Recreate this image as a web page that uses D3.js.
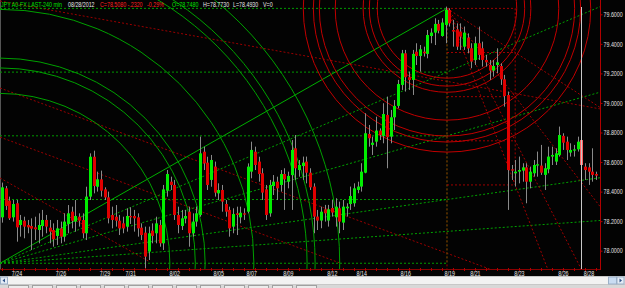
<!DOCTYPE html>
<html><head><meta charset="utf-8">
<script src="https://cdn.jsdelivr.net/npm/d3@7"></script>
<style>
body{margin:0;background:#000;overflow:hidden}
svg{display:block}
text{font-family:"Liberation Sans","DejaVu Sans",sans-serif}
</style></head><body>
<svg id="chart" width="625" height="288"></svg>
<script>
//* JPY A0-FX 240 min bars, 7/24 -> 8/28/2012
var opens = [78.226,78.422,78.339,78.226,78.321,78.174,78.203,78.174,78.167,78.158,78.140,78.167,78.208,78.156,78.140,78.100,78.151,78.095,78.181,78.264,
 78.197,78.230,78.208,78.118,78.366,78.636,78.433,78.483,78.415,78.361,78.242,78.230,78.203,78.185,78.163,78.235,78.235,78.226,78.156,78.122,
 77.994,78.136,78.118,78.174,78.050,78.406,78.467,78.445,78.242,78.167,78.217,78.264,78.118,78.197,78.242,78.670,78.596,78.479,78.569,78.388,
 78.411,78.316,78.276,78.163,78.253,78.226,78.253,78.264,78.535,78.670,78.603,78.524,78.415,78.253,78.438,78.467,78.445,78.519,78.467,78.512,
 78.693,78.546,78.573,78.603,78.528,78.434,78.231,78.204,78.280,78.204,78.289,78.226,78.287,78.190,78.287,78.316,78.321,78.411,78.434,78.528,
 78.790,78.716,78.738,78.813,78.777,78.919,78.772,78.903,78.980,79.122,79.336,79.174,79.156,79.347,79.318,79.347,79.332,79.453,79.476,79.535,
 79.453,79.528,79.629,79.494,79.498,79.483,79.381,79.442,79.370,79.291,79.404,79.370,79.291,79.257,79.219,79.257,79.250,79.160,79.054,78.551,
 78.524,78.535,78.542,78.564,78.467,78.524,78.576,78.576,78.513,78.551,78.637,78.603,78.648,78.777,78.738,78.664,78.677,78.686,78.749,78.569,
 78.564,78.535,78.519]
var highs = [78.461,78.438,78.366,78.343,78.343,78.242,78.230,78.208,78.219,78.230,78.253,78.276,78.242,78.208,78.185,78.208,78.197,78.253,78.309,78.298,
 78.343,78.253,78.253,78.433,78.659,78.677,78.535,78.542,78.429,78.400,78.298,78.309,78.242,78.230,78.287,78.294,78.276,78.253,78.185,78.163,
 78.163,78.185,78.230,78.208,78.445,78.546,78.501,78.479,78.298,78.276,78.276,78.298,78.253,78.298,78.772,78.704,78.636,78.648,78.603,78.456,
 78.445,78.343,78.298,78.287,78.298,78.298,78.287,78.591,78.738,78.704,78.636,78.558,78.445,78.479,78.512,78.501,78.546,78.558,78.535,78.749,
 78.783,78.614,78.637,78.637,78.558,78.456,78.276,78.298,78.310,78.310,78.343,78.355,78.332,78.343,78.321,78.434,78.456,78.467,78.592,78.930,
 78.851,78.772,78.907,78.828,78.998,79.043,78.953,79.020,79.156,79.359,79.359,79.212,79.359,79.404,79.392,79.381,79.494,79.505,79.573,79.562,
 79.573,79.652,79.641,79.562,79.539,79.539,79.517,79.471,79.404,79.449,79.517,79.415,79.325,79.291,79.291,79.370,79.268,79.190,79.077,78.580,
 78.614,78.637,78.592,78.592,78.569,78.614,78.671,78.716,78.592,78.704,78.704,78.693,78.840,78.795,78.772,78.727,78.716,78.772,78.783,78.592,
 78.592,78.693,78.535]
var lows = [78.190,78.276,78.208,78.197,78.061,78.095,78.084,78.118,78.005,78.072,78.050,78.095,78.118,78.050,78.027,78.039,78.050,78.061,78.118,78.151,
 78.129,78.163,78.084,78.072,78.343,78.388,78.400,78.366,78.343,78.185,78.151,78.163,78.106,78.118,78.129,78.181,78.129,78.095,78.072,77.881,
 77.937,78.050,78.050,78.027,78.005,78.366,78.411,78.208,78.118,78.140,78.185,78.027,78.095,78.163,78.230,78.546,78.411,78.433,78.366,78.343,
 78.264,78.230,78.095,78.118,78.106,78.185,78.208,78.253,78.490,78.546,78.467,78.343,78.208,78.230,78.377,78.343,78.400,78.276,78.422,78.276,
 78.479,78.501,78.479,78.456,78.411,78.118,78.140,78.152,78.197,78.163,78.231,78.163,78.118,78.140,78.231,78.276,78.298,78.389,78.400,78.524,
 78.704,78.648,78.704,78.749,78.727,78.558,78.727,78.817,78.964,79.088,79.077,79.088,79.054,79.257,79.212,79.314,79.302,79.404,79.392,79.471,
 79.449,79.404,79.517,79.381,79.359,79.359,79.359,79.336,79.235,79.257,79.291,79.246,79.246,79.156,79.178,79.201,79.122,78.975,78.276,78.479,
 78.434,78.456,78.467,78.321,78.422,78.501,78.501,78.513,78.411,78.524,78.580,78.580,78.637,78.682,78.614,78.637,78.637,78.671,78.569,78.479,
 78.445,78.467,78.479]
var closes = [78.429,78.303,78.219,78.316,78.158,78.208,78.163,78.158,78.149,78.145,78.174,78.208,78.163,78.129,78.077,78.151,78.095,78.197,78.253,78.203,
 78.235,78.203,78.118,78.366,78.636,78.438,78.483,78.406,78.361,78.219,78.208,78.203,78.151,78.151,78.235,78.226,78.219,78.151,78.106,77.960,
 78.118,78.100,78.185,78.050,78.415,78.519,78.445,78.242,78.174,78.219,78.235,78.118,78.197,78.253,78.659,78.591,78.445,78.614,78.393,78.411,
 78.332,78.264,78.151,78.248,78.242,78.257,78.244,78.569,78.682,78.580,78.519,78.393,78.242,78.445,78.467,78.422,78.519,78.483,78.506,78.682,
 78.558,78.580,78.596,78.528,78.429,78.231,78.204,78.264,78.253,78.280,78.258,78.298,78.197,78.298,78.298,78.370,78.422,78.434,78.535,78.795,
 78.761,78.731,78.813,78.783,78.925,78.768,78.903,78.980,79.128,79.336,79.174,79.156,79.332,79.318,79.363,79.336,79.460,79.476,79.535,79.489,
 79.544,79.629,79.539,79.483,79.381,79.449,79.476,79.370,79.280,79.404,79.325,79.291,79.275,79.219,79.250,79.275,79.160,79.047,78.546,78.542,
 78.535,78.546,78.564,78.467,78.535,78.580,78.585,78.528,78.558,78.637,78.648,78.659,78.783,78.731,78.682,78.682,78.686,78.738,78.580,78.546,
 78.535,78.513,78.508]
var selectedBar = 158

var priceTicks = [78.0,78.2,78.4,78.6,78.8,79.0,79.2,79.4,79.6]
var dateBars = [4,16,28,35,47,59,68,78,90,98,110,122,129,141,153,160]
var dateLabels = ["7/24","7/26","7/29","7/31","8/02","8/05","8/07","8/09","8/12","8/14","8/16","8/19","8/21","8/23","8/26","8/28"]

//* drawing tools: green gann box/fan/arcs from the low, red ones from the top
var greenFrom = {bar:-0.5, price:77.915}
var greenTo = {bar:121.4, price:79.64}
var greenLevels = [0,0.25,0.5,0.75,1]
var greenFan = [0.125,0.25,0.5,0.75]
var greenArcs = [0.38,0.437,0.459,0.568,0.687,0.705,0.76]
var redFrom = {bar:121.4, price:79.64}
var redTo = {bar:140, price:78.445}
var redLevels = [0,0.25,0.5,0.75,1]
var redArcs = [0.395,0.44,0.475,0.633,0.723,0.757,0.814]
//? hand drawn red trend lines: [bar1, price1, bar2, price2]
var redTrends = [
  [-0.5,78.769, 92.2,77.917],
  [-0.5,79.101, 163.1,77.600],
  [-0.5,78.492, 40.4,77.924],
  [-0.5,79.690, 163.1,78.960]
]

var header = [
  {t:"JPY A0-FX LAST-240 min", c:"#00e000", x:1},
  {t:"08/28/2012", c:"#e8e8e8", x:68},
  {t:"C=78.5080", c:"#ff2020", x:100},
  {t:"-.2320", c:"#ff2020", x:127.5},
  {t:"-0.29%", c:"#ff2020", x:147},
  {t:"O=78.7480", c:"#00e000", x:172},
  {t:"H=78.7730", c:"#e8e8e8", x:203},
  {t:"L=78.4930", c:"#e8e8e8", x:233},
  {t:"V=0", c:"#e8e8e8", x:263}
]
var squeeze = 0.76   // the platform font is a narrow one

var n = closes.length
var plotW = 600, plotH = 269
var svg = d3.select("#chart")
svg.append("rect").attr("width",625).attr("height",288).attr("fill","#030303")

var x = d3.scaleLinear().domain([-0.5, n-0.5]).range([0, 597.7])
var y = d3.scaleLinear().domain([78.0, 79.6]).range([250.7, 14.3])

svg.append("clipPath").attr("id","plotclip").append("rect").attr("width",plotW).attr("height",plotH)
var plot = svg.append("g").attr("clip-path","url(#plotclip)")
plot.append("line").attr("x1",0.5).attr("x2",0.5).attr("y1",0).attr("y2",plotH).attr("stroke","#555")

var tools = plot.append("g").attr("fill","none")

//? red trend lines
redTrends.forEach(function(t){
    tools.append("line").attr("x1",x(t[0])).attr("y1",y(t[1])).attr("x2",x(t[2])).attr("y2",y(t[3]))
        .attr("stroke","#9a0000").attr("stroke-dasharray","2,2")
})

//? green tool
var gx0 = x(greenFrom.bar), gy0 = y(greenFrom.price), gx1 = x(greenTo.bar), gy1 = y(greenTo.price)
greenLevels.forEach(function(k){
    var yy = gy0 + k*(gy1-gy0)
    tools.append("line").attr("x1",gx0).attr("x2",gx1).attr("y1",yy).attr("y2",yy)
        .attr("stroke","#009a00").attr("stroke-dasharray","2,2")
})
tools.append("line").attr("x1",gx1).attr("x2",gx1).attr("y1",gy1).attr("y2",gy0)
    .attr("stroke","#009a00").attr("stroke-dasharray","2,2")
greenFan.forEach(function(k){
    var slope = k*(gy1-gy0)/(gx1-gx0)
    tools.append("line").attr("x1",gx0).attr("y1",gy0).attr("x2",plotW).attr("y2",gy0+slope*(plotW-gx0))
        .attr("stroke","#00a000").attr("stroke-dasharray","2,2")
})
tools.append("line").attr("x1",gx0).attr("y1",gy0).attr("x2",gx1).attr("y2",gy1).attr("stroke","#00b000")
var gW = gx1-gx0
greenArcs.forEach(function(r){
    tools.append("circle").attr("cx",gx0).attr("cy",gy0).attr("r",r*gW).attr("stroke","#00a000")
})

//? red tool
var rx0 = x(redFrom.bar), ry0 = y(redFrom.price), rx1 = x(redTo.bar), ry1 = y(redTo.price)
redLevels.forEach(function(k){
    var yy = ry0 + k*(ry1-ry0)
    tools.append("line").attr("x1",rx0).attr("x2",rx1).attr("y1",yy).attr("y2",yy)
        .attr("stroke","#a00000").attr("stroke-dasharray","2,2")
    if(k>0){
        var slope = (yy-ry0)/(rx1-rx0)
        tools.append("line").attr("x1",rx0).attr("y1",ry0).attr("x2",plotW).attr("y2",ry0+slope*(plotW-rx0))
            .attr("stroke","#a00000").attr("stroke-dasharray","2,2")
    }
})
tools.append("line").attr("x1",rx0).attr("x2",rx0).attr("y1",ry0).attr("y2",plotH).attr("stroke","#a00000").attr("stroke-dasharray","2,2")
tools.append("line").attr("x1",rx1).attr("x2",rx1).attr("y1",ry0).attr("y2",ry1).attr("stroke","#a00000").attr("stroke-dasharray","2,2")
var rH = ry1-ry0
redArcs.forEach(function(r){
    tools.append("circle").attr("cx",rx0).attr("cy",ry0).attr("r",r*rH).attr("stroke","#c00000")
})

//? candles
var bars = d3.range(n).map(function(i){ return {i:i, o:opens[i], h:highs[i], l:lows[i], c:closes[i]} })
var cg = plot.append("g")
cg.selectAll("line.wick").data(bars).join("line").attr("class","wick")
    .attr("x1",d=>Math.round(x(d.i))+0.5).attr("x2",d=>Math.round(x(d.i))+0.5)
    .attr("y1",d=>y(d.h)).attr("y2",d=>y(d.l)).attr("stroke","#8a8a8a")
cg.selectAll("rect.body").data(bars).join("rect").attr("class","body")
    .attr("x",d=>Math.round(x(d.i))-1).attr("width",3)
    .attr("y",d=>y(Math.max(d.o,d.c))).attr("height",d=>Math.max(1,Math.abs(y(d.o)-y(d.c))))
    .attr("fill",function(d){
        if(d.i==selectedBar) return "#ff6060"
        return d.c>=d.o? "#00ee00":"#e00000"
    })

//? cursor line on the selected bar
plot.append("line").attr("x1",Math.round(x(selectedBar))+0.5).attr("x2",Math.round(x(selectedBar))+0.5)
    .attr("y1",7).attr("y2",plotH).attr("stroke","#c8c8c8")

//* axes
var yAxis = d3.axisRight(y).tickValues(priceTicks).tickFormat(d3.format(".4f")).tickSize(2).tickSizeOuter(0)
var ya = svg.append("g").attr("transform","translate(600.5,0)").call(yAxis)
ya.select(".domain").remove()
ya.selectAll("line").attr("stroke","#b00000")
ya.selectAll("text").attr("fill","#e0e0e0").attr("font-size","7px").attr("x",0)
    .attr("transform","translate(3,0) scale("+squeeze+",1)")
    .style("font-family","'Liberation Sans',sans-serif")
svg.append("line").attr("x1",600.5).attr("x2",600.5).attr("y1",0).attr("y2",270).attr("stroke","#b00000")

var xAxis = d3.axisBottom(x).tickValues(dateBars).tickFormat((d,i)=>dateLabels[i]).tickSize(0).tickSizeOuter(0)
var xa = svg.append("g").attr("transform","translate(0,269.5)").call(xAxis)
xa.select(".domain").remove()
xa.selectAll("text").attr("fill","#e8e8e8").attr("font-size","7px").attr("dy","0").attr("y",0)
    .attr("transform","translate(0,6.5) scale("+squeeze+",1)")
    .style("font-family","'Liberation Sans',sans-serif")
svg.append("line").attr("x1",0).attr("x2",600).attr("y1",269.5).attr("y2",269.5).attr("stroke","#8a0000")
svg.selectAll("line.minor").data(d3.range(0,n,3)).join("line").attr("class","minor")
    .attr("x1",d=>Math.round(x(d))+0.5).attr("x2",d=>Math.round(x(d))+0.5)
    .attr("y1",268).attr("y2",271).attr("stroke","#b00000")

//* header
svg.selectAll("text.head").data(header).join("text").attr("class","head")
    .attr("transform",d=>"translate("+d.x+",6.5) scale("+squeeze+",1)")
    .attr("fill",d=>d.c).attr("font-size","7px").text(d=>d.t)

//* scrollbar + tabs at the bottom
svg.append("rect").attr("x",0).attr("y",276.5).attr("width",625).attr("height",8).attr("fill","#f2f2f2").attr("stroke","#c8c8c8")
svg.append("rect").attr("x",0.5).attr("y",277).attr("width",7).attr("height",7).attr("fill","#e4ecf6").attr("stroke","#9bb0c8")
svg.append("rect").attr("x",608.5).attr("y",277).attr("width",8).attr("height",7).attr("fill","#c9dcf2").attr("stroke","#9bb0c8")
svg.append("rect").attr("x",617).attr("y",277).attr("width",7).attr("height",7).attr("fill","#e4ecf6").attr("stroke","#9bb0c8")
svg.append("path").attr("d","M5,278.5 L2.5,280.5 L5,282.5 Z").attr("fill","#34568c")
svg.append("path").attr("d","M619.5,278.5 L622,280.5 L619.5,282.5 Z").attr("fill","#34568c")
svg.append("rect").attr("x",0).attr("y",285).attr("width",625).attr("height",3).attr("fill","#d8d8d8")
svg.selectAll("rect.tab").data(d3.range(0,300,24)).join("rect").attr("class","tab")
    .attr("x",d=>d+8.5).attr("y",285.5).attr("width",20).attr("height",3).attr("fill","#ececec").attr("stroke","#a0a0a0")
</script>
</body></html>
